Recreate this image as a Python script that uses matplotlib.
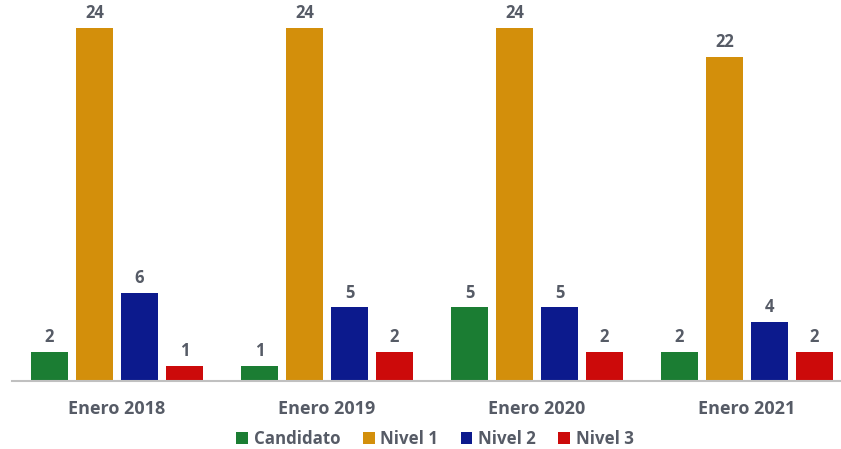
import numpy as np
import matplotlib.pyplot as plt

plt.rcParams['font.family'] = ['Open Sans', 'DejaVu Sans']

# bar counts per period
periods = ["Enero 2018", "Enero 2019", "Enero 2020", "Enero 2021"]
candidato = [2, 1, 5, 2]
nivel1 = [24, 24, 24, 22]
nivel2 = [6, 5, 5, 4]
nivel3 = [1, 2, 2, 2]

series = [
    ("Candidato", candidato, "#1b7d33"),
    ("Nivel 1", nivel1, "#d38f0b"),
    ("Nivel 2", nivel2, "#0c1a8d"),
    ("Nivel 3", nivel3, "#cc0a0a"),
]
text_color = "#565b66"

fig = plt.figure(figsize=(8.41, 4.49), dpi=100)
ax = fig.add_axes([12 / 841, 68 / 449, 840 / 841, 371 / 449])

x = np.arange(len(periods))
width = 0.176
step = 0.214
for i, (name, vals, color) in enumerate(series):
    pos = x + (i - 1.5) * step
    bars = ax.bar(pos, vals, width, color=color, label=name, zorder=2)
    for b, v in zip(bars, vals):
        ax.text(b.get_x() + b.get_width() / 2, v + 0.4, str(v),
                ha="center", va="bottom", fontsize=12, fontweight="bold",
                color=text_color)

ax.set_xlim(-0.5, 3.5)
ax.set_ylim(0, 25.2)
ax.set_xticks(x)
ax.set_xticklabels(periods, fontsize=13, fontweight="bold", color=text_color)
ax.tick_params(axis="x", length=0, pad=14)
ax.set_yticks([])
for side in ["top", "right", "left"]:
    ax.spines[side].set_visible(False)
ax.spines["bottom"].set_color("#c0c0c0")
ax.spines["bottom"].set_linewidth(1.5)

leg = ax.legend(loc="center", bbox_to_anchor=(423 / 840, -0.155), ncol=4,
                frameon=False, handlelength=0.7, handleheight=0.7,
                handletextpad=0.35, columnspacing=1.3,
                prop={"size": 12.2, "weight": "bold"})
for t in leg.get_texts():
    t.set_color(text_color)

fig.savefig("out.png", dpi=100)
